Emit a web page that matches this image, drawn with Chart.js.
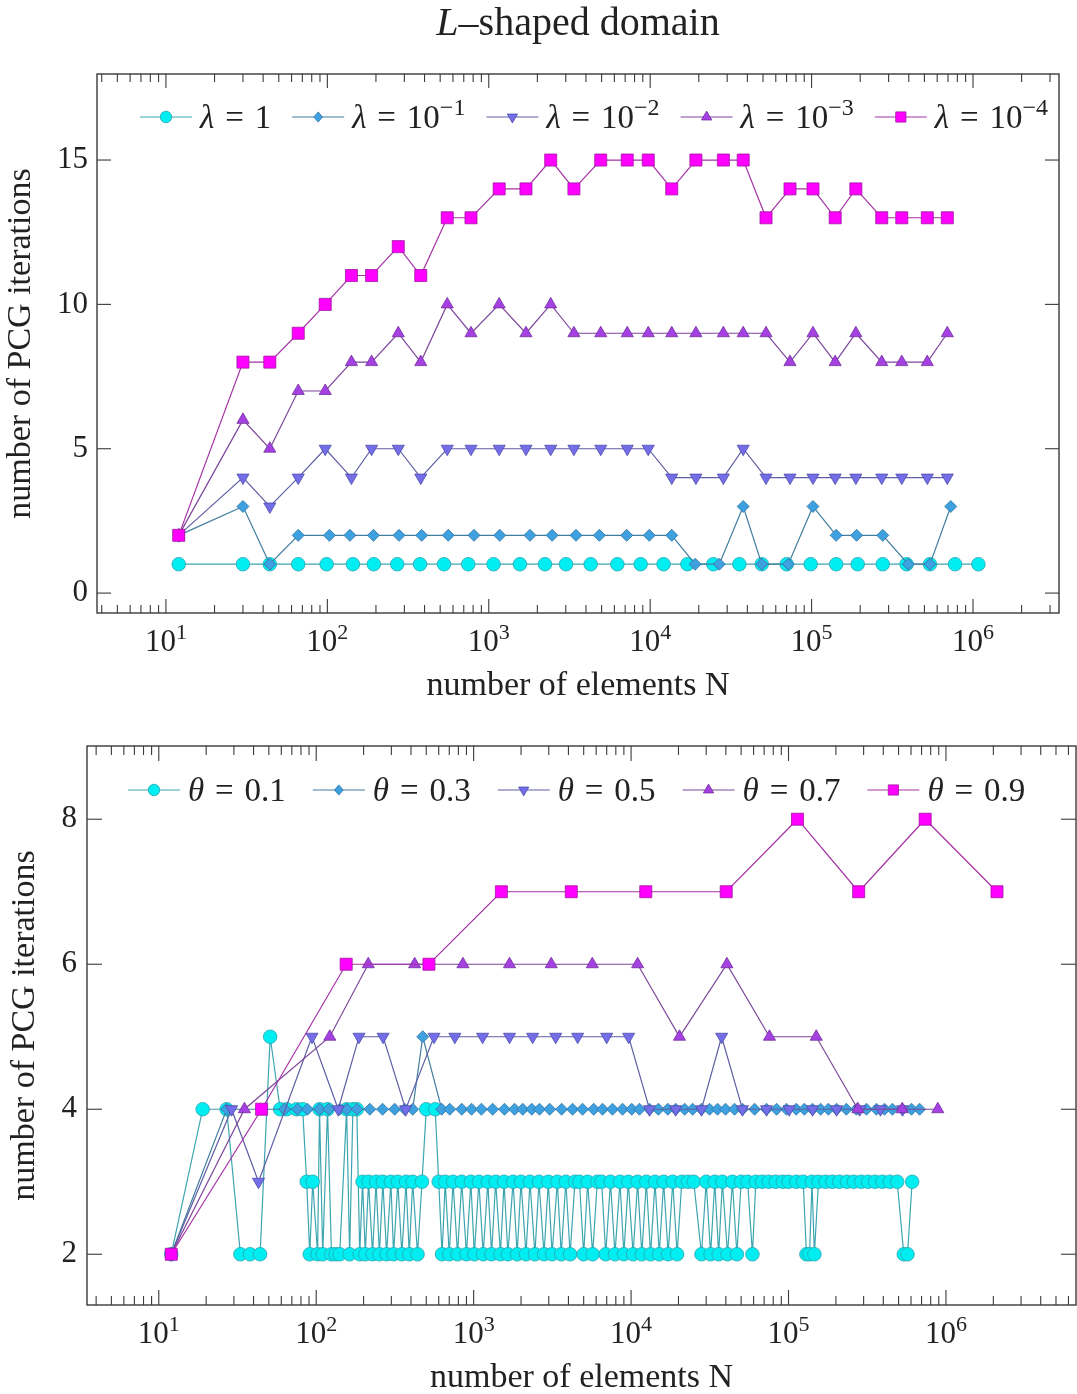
<!DOCTYPE html>
<html>
<head>
<meta charset="utf-8">
<script src="https://cdn.jsdelivr.net/npm/chart.js@4.4.1/dist/chart.umd.min.js"></script>
<style>
  html, body { margin: 0; padding: 0; background: #fff; }
  body { width: 1077px; height: 1394px; position: relative; overflow: hidden; }
  canvas { position: absolute; left: 0; }
  #topChart { top: 0; }
  #bottomChart { top: 710px; }
  #title { position: absolute; left: 0; top: 0; width: 1156px; text-align: center; line-height: 44px;
           font-family: 'Liberation Serif', serif; font-size: 40px; color: #222; }
</style>
</head>
<body>
<canvas id="topChart" width="1077" height="710"></canvas>
<canvas id="bottomChart" width="1077" height="690"></canvas>
<div id="title"><i>L</i>–shaped domain</div>
<script>
// ---- data: top chart (lambda study) ----
const topLabels = ['λ = 1', 'λ = 10⁻¹', 'λ = 10⁻²', 'λ = 10⁻³', 'λ = 10⁻⁴'];
const lam1N = [12, 30, 44, 66, 99, 144, 194, 271, 375, 528, 746, 1070, 1560, 2230, 3010, 4280, 6260, 8730,
  12100, 17000, 24600, 35700, 49100, 70100, 98700, 142000, 193000, 276000, 388000, 541000, 774000, 1080000];
const lam1It = [1, 1, 1, 1, 1, 1, 1, 1, 1, 1, 1, 1, 1, 1, 1, 1, 1, 1, 1, 1, 1, 1, 1, 1, 1, 1, 1, 1, 1, 1, 1, 1];
const lam2N = [12, 30, 44, 66, 103, 138, 193, 278, 384, 561, 810, 1170, 1800, 2470, 3470, 4840, 7150, 9870,
  13600, 19000, 26800, 37700, 49100, 71700, 102000, 142000, 190000, 276000, 397000, 541000, 728000];
const lam2It = [2, 3, 1, 2, 2, 2, 2, 2, 2, 2, 2, 2, 2, 2, 2, 2, 2, 2, 2, 1, 1, 3, 1, 1, 3, 2, 2, 2, 1, 1, 3];
const lamN = [12, 30, 44, 66, 97, 141, 188, 275, 379, 553, 776, 1160, 1700, 2420, 3370, 4940, 7210, 9730,
  13600, 19200, 28400, 37700, 52200, 73500, 102000, 140000, 188000, 272000, 362000, 521000, 693000];
const lam3It = [2, 4, 3, 4, 5, 4, 5, 5, 4, 5, 5, 5, 5, 5, 5, 5, 5, 5, 4, 4, 4, 5, 4, 4, 4, 4, 4, 4, 4, 4, 4];
const lam4It = [2, 6, 5, 7, 7, 8, 8, 9, 8, 10, 9, 10, 9, 10, 9, 9, 9, 9, 9, 9, 9, 9, 9, 8, 9, 8, 9, 8, 8, 8, 9];
const lam5It = [2, 8, 8, 9, 10, 11, 11, 12, 11, 13, 13, 14, 14, 15, 14, 15, 15, 15, 14, 15, 15, 15, 13, 14, 14,
  13, 14, 13, 13, 13, 13];

// ---- data: bottom chart (theta study) ----
const bottomLabels = ['θ = 0.1', 'θ = 0.3', 'θ = 0.5', 'θ = 0.7', 'θ = 0.9'];
const th1N = [12, 19, 27, 33, 38, 44, 51, 59, 65, 75, 82, 87, 91, 95, 102, 105, 110, 118, 125, 133, 141, 156, 163,
  171, 181, 189,
  197, 205, 215, 228, 240, 252, 265, 280, 298, 310, 330, 350, 372, 390, 410, 440, 470, 500, 570, 600, 630, 660,
  700, 740, 790, 840, 900, 960, 1010, 1080, 1150, 1230, 1300, 1380, 1480, 1560, 1650, 1780, 1890, 2000, 2150,
  2280, 2450, 2600, 2800, 2980, 3150, 3400, 3600, 3850, 4100, 4400, 4700, 5000, 5300, 5700, 6100, 6500, 6900,
  7400, 7900, 8500, 9000, 9600, 10300, 11000, 11700, 12500, 13300, 14200, 15100, 16100, 17200, 18400, 19600,
  21000, 23000, 25000, 28000, 30000, 32000, 34000, 36000, 38000, 41000, 44000, 47000, 50000, 55000, 59000,
  62000, 68000, 75000, 83000, 92000, 100000, 112000, 124000, 130000, 136000, 141000, 146000, 155000, 172000,
  190000, 210000, 235000, 260000, 290000, 320000, 355000, 395000, 440000, 490000, 540000, 570000, 610000];
const th1It = [2, 4, 4, 2, 2, 2, 5, 4, 4, 4, 4, 3, 2, 3, 2, 4, 2, 4, 2, 2, 2, 4, 2, 4, 4, 2,
  3, 2, 3, 2, 3, 2, 3, 2, 3, 2, 3, 2, 3, 2, 3, 2, 3, 4, 4, 3, 2, 3,
  2, 3, 2, 3, 2, 3, 2, 3, 2, 3, 2, 3, 2, 3, 2, 3, 2, 3, 2,
  3, 2, 3, 2, 3, 2, 3, 2, 3, 2, 3, 3, 2, 3, 2, 3, 3, 2,
  3, 2, 3, 2, 3, 2, 3, 2, 3, 2, 3, 2, 3, 2, 3, 2,
  3, 3, 3, 2, 3, 2, 3, 2, 3, 2, 3, 2, 3, 3, 2,
  3, 3, 3, 3, 3, 3, 3, 3, 2, 2, 3, 2, 3, 3,
  3, 3, 3, 3, 3, 3, 3, 3, 3, 3, 2, 2, 3];
const th2N = [12, 27, 63, 76, 88, 105, 120, 141, 156, 181, 219, 264, 315, 365, 410, 475, 627, 705, 840, 970,
  1120, 1320, 1570, 1820, 2050, 2340, 2620, 3040, 3620, 4250, 4920, 5790, 6590, 7620, 8830, 10100, 11300,
  13100, 14900, 17100, 19200, 21900, 24600, 28000, 31500, 35400, 39800, 45400, 51000, 60900, 72500, 84000,
  97100, 112000, 126000, 142000, 160000, 179000, 202000, 233000, 270000, 313000, 362000, 407000, 457000,
  530000, 604000, 680000];
const th2It = [2, 4, 4, 4, 4, 4, 4, 4, 4, 4, 4, 4, 4, 4, 4, 5, 4, 4, 4, 4, 4, 4, 4, 4, 4, 4, 4, 4, 4, 4, 4, 4,
  4, 4, 4, 4, 4, 4, 4, 4, 4, 4, 4, 4, 4, 4, 4, 4, 4, 4, 4, 4, 4, 4, 4, 4, 4, 4, 4, 4, 4, 4, 4, 4, 4, 4, 4, 4];
const th3N = [12, 29, 43, 94, 138, 187, 266, 370, 560, 760, 1140, 1690, 2370, 3320, 4580, 7000, 9650, 13100,
  19200, 28000, 37600, 51000, 72500, 101000, 142000, 202000, 283000, 384000, 530000];
const th3It = [2, 4, 3, 5, 4, 5, 5, 4, 5, 5, 5, 5, 5, 5, 5, 5, 5, 4, 4, 4, 5, 4, 4, 4, 4, 4, 4, 4, 4];
const th4N = [12, 35, 122, 214, 422, 855, 1690, 3110, 5670, 11000, 20300, 40600, 75700, 150000, 276000, 527000,
  888000];
const th4It = [2, 4, 5, 6, 6, 6, 6, 6, 6, 6, 5, 6, 5, 5, 4, 4, 4];
const th5N = [12, 45, 155, 520, 1500, 4170, 12400, 40200, 114000, 279000, 738000, 2110000];
const th5It = [2, 4, 6, 6, 7, 7, 7, 7, 8, 7, 8, 7];

// ---- axes ----
const xTickValues = [10, 100, 1000, 10000, 100000, 1000000];
const xTickLabels = ['10¹', '10²', '10³', '10⁴', '10⁵', '10⁶'];
const topYTicks = [0, 5, 10, 15];
const bottomYTicks = [2, 4, 6, 8];

// ---- styles ----
const FAMILY = "'Liberation Serif', 'DejaVu Serif', serif";
const TEXT = '#222';
const fillColors = ['rgb(0,238,242)', 'rgb(62,160,222)', 'rgb(115,110,232)', 'rgb(165,65,225)', 'rgb(255,0,255)'];
const edgeColors = ['rgb(40,165,175)', 'rgb(45,115,165)', 'rgb(80,75,170)', 'rgb(115,45,160)', 'rgb(160,20,160)'];
const lineColors = ['rgb(60,165,175)', 'rgb(65,125,160)', 'rgb(95,95,165)', 'rgb(125,70,155)', 'rgb(165,50,165)'];
const pointStyles = ['circle', 'rectRot', 'triangle', 'triangle', 'rect'];
const pointRotations = [0, 0, 180, 0, 0];
const pointRadii = [6.8, 6, 7, 7, 8.5];

const SUP = { '⁻': '−', '⁰': '0', '¹': '1', '²': '2', '³': '3', '⁴': '4', '⁵': '5', '⁶': '6' };

function drawRuns(ctx, text, x, y, size, draw) {
  let cx = x;
  for (const ch of text) {
    let c = ch, dy = 0;
    if (SUP[ch] !== undefined) {
      c = SUP[ch];
      ctx.font = Math.round(size * 0.72) + 'px ' + FAMILY;
      dy = -size * 0.4;
    } else if (ch === 'λ' || ch === 'θ') {
      ctx.font = 'italic ' + size + 'px ' + FAMILY;
    } else {
      ctx.font = size + 'px ' + FAMILY;
    }
    if (ch === ' ') { cx += size * 0.33; continue; }
    if (draw) ctx.fillText(c, cx, y + dy);
    cx += ctx.measureText(c).width;
  }
  return cx;
}

function drawMarker(ctx, style, rot, r, x, y) {
  ctx.beginPath();
  if (style === 'circle') {
    ctx.arc(x, y, r, 0, Math.PI * 2);
  } else if (style === 'rect') {
    const h = r * Math.SQRT1_2;
    ctx.rect(x - h, y - h, 2 * h, 2 * h);
  } else if (style === 'rectRot') {
    ctx.moveTo(x, y - r); ctx.lineTo(x + r * 0.85, y); ctx.lineTo(x, y + r); ctx.lineTo(x - r * 0.85, y);
    ctx.closePath();
  } else {
    const s = rot ? -1 : 1;
    ctx.moveTo(x, y - s * r);
    ctx.lineTo(x + r * 0.866, y + s * r / 2);
    ctx.lineTo(x - r * 0.866, y + s * r / 2);
    ctx.closePath();
  }
  ctx.fill();
  ctx.stroke();
}

// frame, inward ticks, tick labels with superscripts, legend inside the axes
const pgfFrame = {
  id: 'pgfFrame',
  afterDraw(chart, args, o) {
    const { ctx, chartArea: a, scales: { x, y } } = chart;
    ctx.save();
    ctx.strokeStyle = '#3a3a3a';
    ctx.lineWidth = 1.1;
    const seg = (x1, y1, x2, y2) => { ctx.beginPath(); ctx.moveTo(x1, y1); ctx.lineTo(x2, y2); ctx.stroke(); };
    for (let e = Math.floor(Math.log10(x.min)); e <= Math.ceil(Math.log10(x.max)); e++) {
      for (let m = 1; m <= 9; m++) {
        const v = m * Math.pow(10, e);
        if (v < x.min || v > x.max) continue;
        const px = x.getPixelForValue(v);
        const len = m === 1 ? o.major : o.minor;
        seg(px, a.bottom, px, a.bottom - len);
        seg(px, a.top, px, a.top + len);
      }
    }
    o.yTicks.forEach(v => {
      const py = y.getPixelForValue(v);
      seg(a.left, py, a.left + o.major, py);
      seg(a.right, py, a.right - o.major, py);
    });
    ctx.lineWidth = 1.4;
    ctx.strokeRect(a.left, a.top, a.right - a.left, a.bottom - a.top);

    // x tick labels
    ctx.fillStyle = TEXT;
    ctx.textAlign = 'left';
    ctx.textBaseline = 'alphabetic';
    xTickValues.forEach((v, i) => {
      if (v < x.min || v > x.max) return;
      const w = drawRuns(ctx, xTickLabels[i], 0, 0, o.tickSize, false);
      const px = x.getPixelForValue(v);
      drawRuns(ctx, xTickLabels[i], px - w / 2, a.bottom + o.labelDy, o.tickSize, true);
    });

    // legend
    const ly = a.top + o.legendY;
    let cx = a.left + o.legendX;
    chart.data.datasets.forEach(ds => {
      ctx.strokeStyle = ds.borderColor;
      ctx.lineWidth = ds.borderWidth;
      seg(cx, ly, cx + o.lineLen, ly);
      ctx.fillStyle = ds.pointBackgroundColor;
      ctx.strokeStyle = ds.pointBorderColor;
      ctx.lineWidth = ds.pointBorderWidth;
      drawMarker(ctx, ds.pointStyle, ds.pointRotation, ds.pointRadius * 0.85, cx + o.lineLen / 2, ly);
      cx += o.lineLen + o.textGap;
      ctx.fillStyle = TEXT;
      cx = drawRuns(ctx, ds.label, cx, ly + o.legendSize * 0.33, o.legendSize, true) + o.entryGap;
    });
    ctx.restore();
  }
};

function buildDatasets(labels, nLists, itLists) {
  return labels.map((lab, i) => ({
    label: lab,
    data: nLists[i].map((n, k) => ({ x: n, y: itLists[i][k] })),
    borderColor: lineColors[i],
    backgroundColor: fillColors[i],
    borderWidth: 1.2,
    pointStyle: pointStyles[i],
    pointRotation: pointRotations[i],
    pointRadius: pointRadii[i],
    pointBackgroundColor: fillColors[i],
    pointBorderColor: edgeColors[i],
    pointBorderWidth: 0.8,
    tension: 0,
    order: labels.length - 1 - i
  }));
}

function makeChart(id, c) {
  const font = { family: FAMILY, size: 34, lineHeight: 1.2 };
  return new Chart(document.getElementById(id), {
    type: 'line',
    data: { datasets: c.datasets },
    options: {
      responsive: false,
      animation: false,
      devicePixelRatio: 1,
      events: [],
      layout: { autoPadding: false, padding: { left: 0, right: c.padRight, top: c.padTop, bottom: 0 } },
      plugins: {
        legend: { display: false },
        tooltip: { enabled: false },
        pgfFrame: { major: c.major, minor: c.minor, yTicks: c.yTicks, tickSize: 31, labelDy: 38,
                    legendSize: 33, legendX: c.legendX, legendY: c.legendY, lineLen: 52, textGap: 8,
                    entryGap: c.entryGap }
      },
      scales: {
        x: {
          type: 'logarithmic',
          min: c.xMin, max: c.xMax,
          afterBuildTicks: s => { s.ticks = xTickValues.map(v => ({ value: v })); },
          afterFit: s => { s.height = c.xHeight; },
          grid: { display: false, drawTicks: false },
          border: { display: false },
          ticks: { display: false },
          title: { display: true, text: 'number of elements N', color: TEXT, font,
                   padding: { top: 0, bottom: c.xTitlePad } }
        },
        y: {
          type: 'linear',
          min: c.yMin, max: c.yMax,
          afterBuildTicks: s => { s.ticks = c.yTicks.map(v => ({ value: v })); },
          afterFit: s => { s.width = c.yWidth; },
          grid: { display: false, drawTicks: false },
          border: { display: false },
          ticks: { color: TEXT, font: { family: FAMILY, size: 31 }, padding: c.yPad },
          title: { display: true, text: 'number of PCG iterations', color: TEXT, font,
                   padding: { top: c.yTitlePad, bottom: 0 } }
        }
      }
    },
    plugins: [pgfFrame]
  });
}

makeChart('topChart', {
  datasets: buildDatasets(topLabels, [lam1N, lam2N, lamN, lamN, lamN],
                          [lam1It, lam2It, lam3It, lam4It, lam5It]),
  xMin: 3.74, xMax: 3.41e6, yMin: -0.69, yMax: 17.98, yTicks: topYTicks,
  padTop: 74, padRight: 18, xHeight: 97, yWidth: 97, yPad: 9, xTitlePad: 4, yTitlePad: 1,
  major: 14, minor: 8, legendX: 43, legendY: 43, entryGap: 21
});

makeChart('bottomChart', {
  datasets: buildDatasets(bottomLabels, [th1N, th2N, th3N, th4N, th5N],
                          [th1It, th2It, th3It, th4It, th5It]),
  xMin: 3.5, xMax: 6.7e6, yMin: 1.3, yMax: 9.01, yTicks: bottomYTicks,
  padTop: 36, padRight: 1, xHeight: 95, yWidth: 87, yPad: 10, xTitlePad: 2, yTitlePad: 5,
  major: 15, minor: 9, legendX: 41, legendY: 44, entryGap: 27
});
</script>
</body>
</html>
